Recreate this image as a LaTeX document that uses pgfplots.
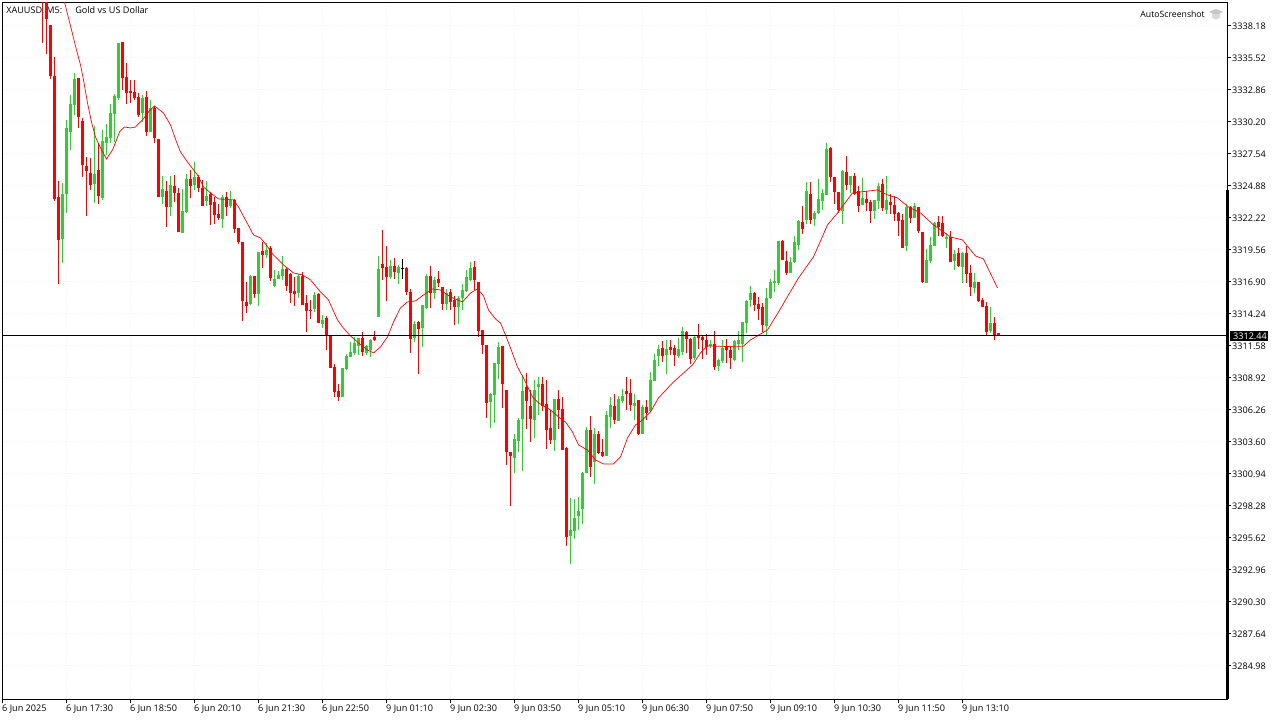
\documentclass[border=0pt]{standalone}
\usepackage{fontspec}
\setmainfont{Open Sans}
\usepackage{pgfplots}
\usepackage{pgfplotstable}
\pgfplotsset{compat=1.18}
\definecolor{candlegreen}{HTML}{32CD32}
\definecolor{griddot}{HTML}{F4F4F4}
\pgfplotstableread{
i o h l c
10 3343.00 3344.00 3336.73 3340.50
11 3341.00 3342.00 3335.81 3338.72
12 3338.22 3338.22 3333.73 3333.98
13 3333.98 3335.56 3323.60 3323.76
14 3323.93 3325.26 3316.70 3320.35
19 3333.81 3333.81 3329.66 3330.58
20 3330.25 3330.49 3325.59 3326.58
21 3326.50 3327.25 3322.34 3326.09
22 3325.92 3327.16 3324.51 3324.92
24 3326.17 3328.41 3323.35 3324.01
30 3336.81 3336.81 3332.82 3333.81
31 3333.90 3335.06 3331.66 3332.57
32 3332.74 3333.65 3331.74 3332.57
33 3332.65 3333.65 3331.99 3332.16
34 3332.24 3332.57 3330.58 3330.74
36 3332.24 3332.74 3328.99 3329.32
38 3331.32 3331.49 3328.41 3328.83
39 3328.75 3328.75 3323.93 3323.93
41 3324.43 3325.26 3321.43 3323.09
43 3324.84 3325.75 3323.51 3324.26
44 3324.26 3324.67 3321.01 3321.01
47 3325.42 3326.17 3323.84 3324.84
49 3325.59 3325.75 3324.34 3324.67
50 3324.67 3325.34 3323.18 3323.18
52 3324.18 3324.34 3321.60 3323.26
53 3323.51 3323.93 3321.68 3322.43
54 3322.51 3323.35 3322.01 3322.18
56 3323.93 3324.34 3322.34 3323.09
58 3323.68 3323.76 3320.93 3321.26
59 3321.35 3321.35 3320.02 3320.18
60 3320.18 3320.18 3313.62 3315.28
61 3315.20 3316.86 3314.28 3314.86
63 3317.36 3317.36 3315.53 3315.86
65 3319.44 3320.18 3318.02 3319.10
67 3319.69 3319.85 3316.94 3317.20
71 3317.94 3318.02 3316.11 3316.53
72 3317.53 3317.61 3315.11 3315.94
73 3316.11 3317.28 3314.86 3315.86
75 3317.36 3317.69 3314.94 3314.94
76 3315.11 3315.78 3312.70 3314.45
77 3314.53 3315.36 3313.78 3314.45
79 3315.86 3315.94 3313.45 3313.45
81 3313.87 3314.03 3311.21 3312.45
82 3312.45 3312.45 3309.71 3309.71
83 3309.79 3310.04 3307.30 3307.72
84 3307.80 3308.38 3306.97 3307.30
90 3312.20 3312.70 3310.71 3311.04
93 3312.29 3312.79 3311.96 3312.04
95 3318.36 3321.18 3317.03 3318.02
96 3318.11 3319.85 3315.28 3317.28
98 3318.19 3318.86 3317.11 3317.69
101 3318.02 3318.11 3315.78 3316.03
102 3316.03 3316.28 3310.96 3312.12
104 3313.53 3313.62 3309.21 3312.95
107 3317.36 3318.19 3314.70 3315.94
109 3317.11 3317.78 3316.44 3316.78
110 3316.44 3316.44 3314.53 3315.03
112 3316.03 3316.28 3314.53 3315.20
113 3315.36 3315.69 3313.28 3314.78
118 3318.11 3318.61 3316.19 3317.03
119 3316.86 3316.86 3312.29 3312.79
120 3312.87 3312.87 3310.88 3311.62
121 3311.62 3311.62 3305.55 3306.80
125 3311.54 3311.54 3306.38 3308.38
126 3307.88 3307.88 3301.65 3302.73
127 3302.73 3302.73 3298.24 3302.39
131 3308.13 3309.29 3304.64 3306.97
132 3306.55 3307.88 3303.56 3305.47
135 3308.38 3308.96 3306.14 3306.55
136 3306.72 3308.71 3302.98 3304.56
137 3304.72 3306.22 3303.39 3303.73
139 3307.13 3307.88 3304.64 3306.22
140 3306.30 3307.30 3302.89 3302.89
141 3303.06 3303.14 3294.91 3295.66
147 3304.56 3305.72 3300.65 3301.48
149 3304.22 3304.47 3302.56 3302.64
150 3302.73 3303.81 3302.31 3302.39
153 3306.55 3307.55 3305.06 3305.39
156 3307.80 3308.96 3306.22 3307.55
157 3307.63 3308.79 3306.14 3306.63
159 3307.05 3307.05 3304.14 3304.22
161 3306.47 3307.05 3305.39 3305.97
165 3311.38 3311.96 3310.21 3310.71
167 3311.46 3312.04 3310.79 3311.21
168 3311.38 3311.62 3309.88 3310.79
171 3312.70 3312.79 3310.96 3312.12
172 3312.12 3312.20 3310.04 3310.46
174 3312.45 3313.37 3311.29 3312.20
175 3312.29 3312.45 3310.46 3312.04
176 3312.04 3312.54 3310.79 3311.46
178 3311.71 3312.79 3309.54 3309.79
181 3311.46 3312.12 3310.13 3311.21
182 3311.21 3311.46 3309.63 3310.54
188 3315.94 3316.03 3314.45 3314.94
189 3315.03 3315.61 3313.70 3314.61
190 3314.78 3315.11 3312.70 3313.28
195 3320.27 3320.35 3318.69 3318.69
196 3318.61 3319.44 3317.44 3317.61
200 3321.85 3323.18 3320.85 3321.26
202 3324.18 3325.17 3321.68 3322.01
207 3328.00 3328.08 3325.17 3325.59
208 3325.59 3325.59 3323.35 3324.34
209 3324.34 3324.34 3322.59 3322.84
211 3326.00 3327.33 3324.51 3324.92
213 3325.67 3325.92 3324.09 3324.18
214 3324.43 3324.84 3322.67 3323.18
216 3323.76 3324.43 3322.76 3323.43
217 3323.51 3323.68 3321.76 3322.76
220 3325.00 3325.42 3322.76 3323.01
222 3323.51 3324.18 3322.51 3323.26
223 3323.26 3324.01 3321.93 3322.51
224 3322.59 3322.67 3320.68 3321.93
225 3322.01 3322.51 3319.69 3319.69
227 3323.09 3323.18 3321.76 3322.18
229 3323.09 3323.09 3320.93 3321.10
230 3321.01 3321.01 3316.78 3316.86
234 3321.85 3322.34 3320.68 3321.43
235 3321.76 3322.34 3320.60 3320.68
237 3320.60 3321.10 3318.52 3318.52
239 3319.27 3319.69 3318.11 3318.19
241 3319.27 3319.85 3316.78 3317.53
242 3317.61 3318.27 3315.69 3316.44
244 3316.86 3316.86 3315.20 3315.28
245 3315.36 3315.53 3314.78 3314.78
246 3314.86 3315.20 3312.45 3312.70
248 3313.45 3313.95 3312.04 3312.37
249 3312.62 3312.62 3312.37 3312.44
}\downbars
\pgfplotstableread{
i o h l c
15 3320.43 3325.09 3318.44 3324.18
16 3324.18 3330.33 3322.59 3329.66
17 3329.32 3332.40 3327.83 3331.66
18 3331.57 3334.23 3330.74 3333.73
23 3325.00 3329.83 3323.43 3325.84
25 3323.84 3329.49 3323.68 3328.58
26 3328.41 3330.00 3327.42 3328.91
27 3328.83 3331.66 3328.41 3330.91
28 3330.82 3332.49 3328.50 3332.32
29 3332.16 3336.73 3331.99 3336.73
35 3330.91 3332.40 3330.16 3332.16
37 3329.32 3331.99 3329.32 3331.32
40 3323.93 3325.67 3323.35 3324.59
42 3323.09 3325.67 3322.34 3324.92
45 3320.93 3324.59 3320.93 3322.76
46 3322.67 3325.84 3322.59 3325.42
48 3324.92 3326.83 3324.51 3325.59
51 3323.60 3325.26 3323.18 3324.01
55 3322.09 3324.09 3321.35 3323.93
57 3323.18 3324.43 3323.01 3323.68
62 3315.03 3317.44 3314.94 3317.36
64 3315.86 3319.35 3314.86 3319.35
66 3319.10 3320.10 3318.86 3319.52
68 3316.53 3317.86 3316.44 3317.11
69 3317.11 3317.78 3317.11 3317.44
70 3317.36 3319.02 3317.03 3317.94
74 3315.94 3317.53 3315.53 3317.36
78 3314.61 3316.03 3314.36 3315.78
80 3313.37 3314.11 3313.04 3313.70
85 3307.30 3309.71 3307.30 3309.71
86 3309.63 3310.88 3309.54 3310.71
87 3310.63 3311.87 3310.63 3311.04
88 3310.96 3312.29 3310.79 3311.79
89 3311.54 3312.20 3310.79 3312.20
91 3310.96 3311.62 3310.79 3311.54
92 3311.21 3312.12 3310.63 3312.04
94 3313.95 3319.02 3313.95 3317.94
97 3317.28 3318.69 3317.11 3318.19
99 3317.61 3318.27 3316.70 3318.11
103 3312.20 3313.62 3311.87 3313.37
105 3313.03 3314.94 3311.46 3314.94
106 3314.70 3317.53 3314.61 3317.36
108 3315.94 3317.28 3315.45 3317.03
111 3315.03 3316.28 3314.53 3315.94
114 3314.78 3315.69 3313.37 3315.53
115 3315.53 3316.70 3314.53 3316.19
116 3316.11 3317.86 3316.03 3317.28
117 3317.03 3318.52 3316.94 3318.02
122 3306.88 3307.63 3304.72 3307.55
123 3307.47 3310.13 3305.14 3310.13
124 3310.04 3311.87 3308.80 3311.46
128 3302.23 3304.22 3300.98 3303.81
129 3303.64 3305.55 3302.73 3305.39
130 3305.47 3309.13 3301.15 3307.80
133 3305.39 3308.71 3303.89 3307.88
134 3308.13 3308.96 3305.80 3308.38
138 3303.73 3307.13 3302.81 3307.13
142 3295.75 3298.90 3293.42 3296.24
143 3296.16 3298.82 3295.50 3297.24
144 3297.41 3298.99 3296.24 3297.83
145 3297.99 3301.06 3296.74 3300.98
146 3300.98 3304.81 3300.98 3304.56
148 3301.90 3304.72 3300.07 3304.22
151 3302.39 3306.14 3302.39 3305.80
152 3305.64 3307.30 3304.72 3306.63
154 3305.30 3307.38 3305.30 3307.13
155 3306.97 3307.96 3306.80 3307.38
158 3306.55 3307.55 3305.39 3306.80
160 3304.22 3306.63 3304.22 3306.47
162 3306.14 3309.38 3306.05 3308.71
163 3308.63 3310.88 3308.63 3310.38
164 3310.71 3311.62 3309.88 3311.29
166 3310.79 3312.04 3309.21 3311.29
169 3310.71 3312.20 3310.54 3311.29
170 3311.04 3313.12 3310.79 3312.79
173 3310.54 3312.37 3310.38 3312.29
177 3311.54 3312.04 3311.38 3311.71
179 3309.88 3310.46 3309.46 3310.38
180 3310.29 3312.04 3310.13 3311.38
183 3310.38 3312.04 3310.29 3311.96
184 3311.71 3312.79 3311.21 3312.04
185 3311.71 3313.53 3310.21 3313.53
186 3313.45 3315.36 3312.62 3315.28
187 3315.36 3316.53 3314.78 3315.94
191 3313.20 3316.36 3312.37 3315.53
192 3315.53 3317.11 3315.45 3316.86
193 3316.78 3317.86 3316.03 3316.94
194 3316.78 3320.27 3316.61 3320.27
197 3317.61 3318.94 3317.61 3318.52
198 3318.52 3320.68 3318.44 3320.18
199 3319.93 3322.01 3319.52 3321.93
201 3322.01 3325.17 3321.68 3324.42
203 3322.09 3322.76 3321.51 3322.59
204 3322.59 3325.42 3322.51 3323.76
205 3323.59 3324.59 3322.84 3324.26
206 3324.09 3328.41 3324.09 3327.91
210 3322.76 3326.17 3321.68 3326.09
212 3324.92 3325.67 3324.26 3325.67
215 3323.26 3325.50 3323.26 3323.84
218 3322.76 3323.68 3322.09 3323.68
219 3323.59 3325.09 3322.93 3324.84
221 3322.84 3325.67 3322.51 3323.68
226 3319.85 3323.35 3319.44 3323.09
228 3322.18 3323.43 3322.18 3323.18
231 3316.78 3319.60 3316.78 3318.69
232 3318.61 3320.60 3318.44 3319.93
233 3319.85 3321.85 3319.85 3321.76
236 3320.43 3320.93 3319.69 3320.60
238 3318.61 3319.52 3317.86 3319.19
240 3318.11 3319.35 3316.78 3319.27
243 3316.36 3317.61 3315.94 3316.86
247 3312.78 3314.78 3312.62 3313.45
}\upbars
\pgfplotstableread{
i o h l c
100 3318.06 3318.77 3317.11 3317.98
}\dojibars
\pgfplotstableread{
x y
15.5 3340.13
17.25 3337.81
18.5 3336.14
19.5 3334.90
20.25 3333.65
21.25 3331.74
22.25 3330.16
23.25 3328.91
24.5 3328.00
26 3327.08
27.5 3327.83
28.5 3328.66
29.25 3329.33
30.5 3329.74
32 3329.66
33.25 3329.74
35 3330.33
36.5 3330.99
38 3331.49
40.25 3330.91
42 3329.91
43.5 3328.50
44.5 3327.67
46.25 3326.83
48.75 3325.75
50.25 3324.76
52 3324.26
54 3323.76
57.75 3323.68
59 3323.09
60.75 3322.01
62.75 3320.77
64.5 3320.52
65.75 3320.02
67.75 3319.10
70.25 3318.27
72.75 3317.61
75 3317.44
77 3317.03
79.5 3316.03
81.5 3315.36
83.75 3313.70
85 3313.12
87 3312.37
89 3311.79
91.25 3311.21
92.75 3310.96
94.5 3311.46
96.25 3312.29
97.75 3313.53
99.5 3314.70
101.25 3315.20
103.25 3315.28
105.25 3315.78
107.5 3316.28
109.5 3316.19
112 3315.61
115 3315.20
117 3315.94
118.75 3316.28
120.25 3315.70
121.5 3314.53
123.25 3313.78
124.5 3313.45
125.75 3312.45
127 3311.37
128.75 3309.79
130.25 3308.88
132.5 3307.30
134 3306.80
137 3306.22
139 3305.64
140.75 3305.22
142.5 3304.39
144 3303.31
146.25 3302.89
148.25 3302.06
150.25 3301.73
152.75 3301.73
154.5 3302.31
156.25 3303.89
158.25 3304.97
160 3305.39
162 3306.05
164 3307.22
167.5 3308.46
170.25 3309.29
172.5 3309.96
174.5 3310.96
176.25 3311.54
185 3311.46
187 3312.04
191.25 3312.87
194 3314.36
196.5 3315.78
199 3317.19
202.75 3318.94
206.25 3321.60
208.75 3322.59
212.5 3324.26
218.75 3324.51
221.25 3324.09
223.75 3323.84
226.5 3323.09
229.5 3322.59
232.75 3321.60
237 3320.60
240 3320.35
243.25 3319.02
245.25 3318.77
248.75 3316.36
}\matable
\pgfplotsset{
  wicks/.style={draw=none, mark=none, forget plot,
    error bars/.cd, y dir=plus, y explicit, error mark=none,
    error bar style={solid, draw=#1, line width=1pt}},
  bodies/.style={draw=none, mark=none, forget plot,
    error bars/.cd, y dir=plus, y explicit, error mark=none,
    error bar style={solid, draw=#1, line width=3pt}},
}
\begin{document}
\begin{tikzpicture}[x=1pt,y=1pt]
\path[use as bounding box, fill=white] (0,0) rectangle (1280,720);
\begin{axis}[
  at={(2.5pt,20.5pt)}, anchor=south west,
  scale only axis, width=1225pt, height=697pt,
  xmin=0, xmax=306.25, ymin=3282.15, ymax=3340.09,
  axis line style={line width=1pt, black},
  tick style={black, line width=1pt},
  tick align=outside, major tick length=4pt,
  xtick pos=bottom, ytick pos=right,
  yticklabel pos=right,
  xtick={0,16,32,48,64,80,96,112,128,144,160,176,192,208,224,240},
  xticklabels={6 Jun 2025,6 Jun 17:30,6 Jun 18:50,6 Jun 20:10,6 Jun 21:30,6 Jun 22:50,9 Jun 01:10,9 Jun 02:30,9 Jun 03:50,9 Jun 05:10,9 Jun 06:30,9 Jun 07:50,9 Jun 09:10,9 Jun 10:30,9 Jun 11:50,9 Jun 13:10},
  ytick={3284.98,3287.64,3290.30,3292.96,3295.62,3298.28,3300.94,3303.60,3306.26,3308.92,3311.58,3314.24,3316.90,3319.56,3322.22,3324.88,3327.54,3330.20,3332.86,3335.52,3338.18},
  yticklabels={3284.98,3287.64,3290.30,3292.96,3295.62,3298.28,3300.94,3303.60,3306.26,3308.92,3311.58,3314.24,3316.90,3319.56,3322.22,3324.88,3327.54,3330.20,3332.86,3335.52,3338.18},
  xticklabel style={font=\fontsize{9.1}{11}\selectfont, anchor=north west, inner sep=0pt, xshift=-0.5pt, yshift=-1.5pt},
  yticklabel style={font=\fontsize{9.1}{11}\selectfont, anchor=west, inner sep=0pt, xshift=0.5pt, yshift=-0.8pt},
  grid=major, grid style={griddot, dotted, line width=0.6pt},
  clip=true,
]
\node[anchor=west, inner sep=0pt, font=\fontsize{9.1}{11}\selectfont] at (axis cs:0.9,3339.45) {XAUUSD, M5:\hspace{13pt}Gold vs US Dollar};
\addplot[wicks=red] table[x=i, y=l, y error plus expr=\thisrow{h}-\thisrow{l}] {\downbars};
\addplot[bodies=red] table[x=i, y=c, y error plus expr=\thisrow{o}-\thisrow{c}] {\downbars};
\addplot[wicks=candlegreen] table[x=i, y=l, y error plus expr=\thisrow{h}-\thisrow{l}] {\upbars};
\addplot[bodies=candlegreen] table[x=i, y=o, y error plus expr=\thisrow{c}-\thisrow{o}] {\upbars};
\addplot[wicks=black] table[x=i, y=l, y error plus expr=\thisrow{h}-\thisrow{l}] {\dojibars};
\addplot[bodies=black] table[x=i, y=c, y error plus expr=\thisrow{o}-\thisrow{c}] {\dojibars};
\addplot[red, line width=0.7pt, forget plot] table[x=x, y=y] {\matable};
\addplot[black, line width=1pt, forget plot] coordinates {(0,3312.44) (306.25,3312.44)};
\end{axis}
\node[anchor=west, inner sep=0pt, minimum height=10pt, minimum width=38pt, fill=black, text=white, font=\fontsize{9.1}{11}\selectfont] at (1230,384) {\,3312.44};
\draw[line width=3pt, black] (1227.5,20.5) -- (1227.5,530);
\node[anchor=east, inner sep=0pt, font=\fontsize{8.7}{11}\selectfont] at (1205,706) {AutoScreenshot};
\fill[gray!45] (1216,711) -- (1223,708) -- (1216,705) -- (1209,708) -- cycle;
\fill[gray!30] (1212,706.5) -- (1216,705) -- (1220,706.5) -- (1220,702) -- (1216,700.5) -- (1212,702) -- cycle;
\end{tikzpicture}
\end{document}
